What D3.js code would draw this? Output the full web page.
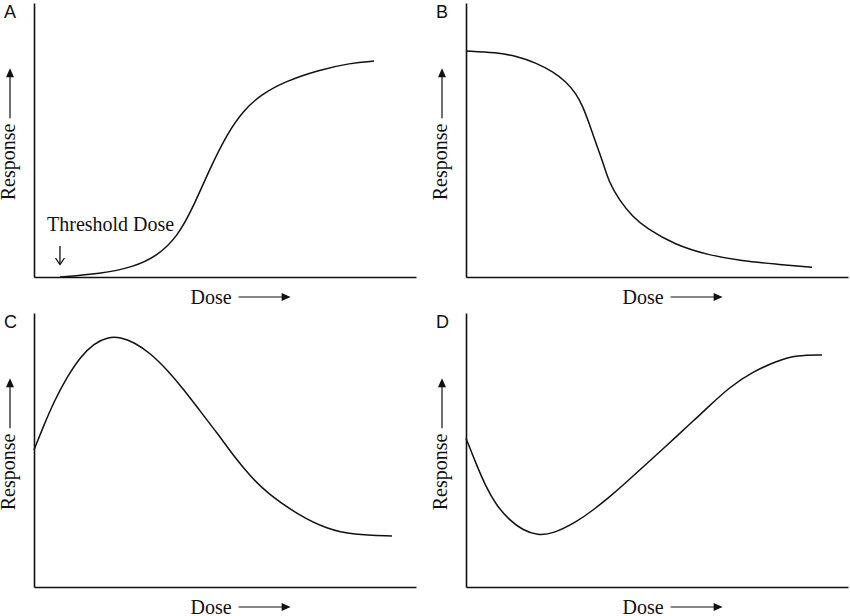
<!DOCTYPE html>
<html>
<head>
<meta charset="utf-8">
<title>Dose-Response Curves</title>
<script src="https://d3js.org/d3.v7.min.js"></script>
<style>
    body { margin: 0; background: #fff; }
    .axis path { stroke: #111; stroke-width: 1.6px; }
    .lbl { font-family: "Liberation Serif", "Times New Roman", serif; font-size: 20px; fill: #111; }
    .panel-id { font-family: "Liberation Sans", Arial, sans-serif; font-size: 18px; fill: #111; }
</style>
</head>
<body>
<div id="chart"></div>
<script>
    // Curves, dose and response both on a 0-100 scale
    const doseA = [6.8, 17.3, 26.0, 32.3, 37.5, 41.7, 46.2, 50.7, 54.9, 59.3, 65.4, 74.3, 82.9, 89.0];
    const respA = [0, 1.1, 3.6, 7.7, 14.6, 25.5, 40.1, 52.6, 60.9, 66.4, 71.2, 75.5, 78.1, 78.8];

    const doseB = [0, 7.9, 13.1, 18.3, 22.8, 26.2, 28.8, 30.6, 32.2, 34.0, 35.9, 37.4, 40.1, 43.7, 47.1, 54.7, 63.4, 72.3, 80.9, 90.6];
    const respB = [82.5, 81.9, 80.7, 78.2, 74.9, 71.3, 67.0, 62.2, 56.2, 48.9, 41.6, 34.7, 28.1, 21.9, 17.9, 11.7, 8.0, 5.8, 4.7, 3.6];

    const doseC = [0, 2.6, 5.2, 8.7, 12.2, 15.7, 19.2, 22.7, 26.2, 30.5, 34.9, 39.3, 43.6, 48.0, 52.4, 56.7, 61.1, 69.6, 76.7, 83.5, 93.7];
    const respC = [50.0, 59.1, 67.6, 76.8, 84.1, 88.9, 91.2, 91.2, 89.3, 85.3, 79.2, 71.9, 64.0, 56.1, 47.6, 40.3, 34.2, 25.9, 21.2, 19.0, 18.6];

    const doseD = [0, 2.6, 5.2, 7.9, 11.3, 14.8, 18.8, 22.7, 29.0, 33.3, 37.7, 42.1, 46.4, 50.8, 55.2, 59.5, 63.1, 69.1, 75.1, 81.4, 86.6, 93.2];
    const respD = [54.3, 45.1, 36.6, 29.9, 24.5, 20.8, 18.8, 19.4, 23.8, 28.1, 33.0, 38.4, 43.9, 49.4, 55.1, 60.6, 65.3, 73.1, 78.6, 82.5, 84.6, 84.7];

    const panelIds = ["A", "B", "C", "D"];
    const xTitle = "Dose";
    const yTitle = "Response";
    const thresholdLabel = "Threshold Dose";
    const thresholdDose = 6.8;

    // Layout of the 2x2 grid (axis corner, axis lengths)
    const panels = [
        { id: panelIds[0], x0: 34,  y0: 277, w: 382, h: 274, dose: doseA, resp: respA },
        { id: panelIds[1], x0: 466, y0: 277, w: 382, h: 274, dose: doseB, resp: respB },
        { id: panelIds[2], x0: 34,  y0: 587, w: 382, h: 274, dose: doseC, resp: respC },
        { id: panelIds[3], x0: 466, y0: 587, w: 382, h: 274, dose: doseD, resp: respD }
    ];

    const svg = d3.select("#chart")
        .append("svg")
        .attr("width", 850)
        .attr("height", 616);

    function arrowHead(g, x, y, dir) {
        // filled triangle, tip at (x, y); dir "up" or "right"
        const L = 9, W = 4;
        const pts = dir === "up"
            ? [[x, y], [x - W, y + L], [x + W, y + L]]
            : [[x, y], [x - L, y - W], [x - L, y + W]];
        g.append("path")
            .attr("d", d3.line()(pts) + "Z")
            .attr("fill", "#111");
    }

    panels.forEach(function(p) {
        const g = svg.append("g")
            .attr("transform", "translate(" + p.x0 + "," + (p.y0 - p.h) + ")");

        const x = d3.scaleLinear().domain([0, 100]).range([0, p.w]);
        const y = d3.scaleLinear().domain([0, 100]).range([p.h, 0]);

        // axes: bare lines, no ticks
        g.append("g")
            .attr("class", "axis")
            .attr("transform", "translate(0," + p.h + ")")
            .call(d3.axisBottom(x).tickValues([]).tickSizeOuter(0));
        g.append("g")
            .attr("class", "axis")
            .call(d3.axisLeft(y).tickValues([]).tickSizeOuter(0));

        // curve (basis spline smooths the hand-read points)
        const pts = p.dose.map((d, i) => [d, p.resp[i]]);
        g.append("path")
            .datum(pts)
            .attr("fill", "none")
            .attr("stroke", "#111")
            .attr("stroke-width", 1.5)
            .attr("d", d3.line()
                .x(d => x(d[0]))
                .y(d => y(d[1]))
                .curve(d3.curveBasis));

        // panel letter
        g.append("text")
            .attr("class", "panel-id")
            .attr("x", -30)
            .attr("y", 15)
            .text(p.id);

        // x title with arrow
        const xt = x(41);
        g.append("text")
            .attr("class", "lbl")
            .attr("x", xt)
            .attr("y", p.h + 27)
            .text(xTitle);
        g.append("line")
            .attr("x1", xt + 48).attr("x2", xt + 92)
            .attr("y1", p.h + 20).attr("y2", p.h + 20)
            .attr("stroke", "#111").attr("stroke-width", 1.2);
        arrowHead(g, xt + 100, p.h + 20, "right");

        // y title with arrow
        const yt = y(28);
        g.append("text")
            .attr("class", "lbl")
            .attr("transform", "translate(-19," + yt + ") rotate(-90)")
            .text(yTitle);
        g.append("line")
            .attr("x1", -24).attr("x2", -24)
            .attr("y1", yt - 82).attr("y2", yt - 124)
            .attr("stroke", "#111").attr("stroke-width", 1.2);
        arrowHead(g, -24, yt - 132, "up");
    });

    // threshold annotation on panel A
    const pA = panels[0];
    const xA = d3.scaleLinear().domain([0, 100]).range([pA.x0, pA.x0 + pA.w]);
    const ax = xA(thresholdDose);
    svg.append("text")
        .attr("class", "lbl")
        .attr("x", 47)
        .attr("y", 231)
        .text(thresholdLabel);
    svg.append("line")
        .attr("x1", ax).attr("x2", ax)
        .attr("y1", 246).attr("y2", 264)
        .attr("stroke", "#111").attr("stroke-width", 1.3);
    svg.append("path")
        .attr("d", d3.line()([[ax - 4.5, 258], [ax, 264.5], [ax + 4.5, 258]]))
        .attr("fill", "none")
        .attr("stroke", "#111").attr("stroke-width", 1.3);
</script>
</body>
</html>
